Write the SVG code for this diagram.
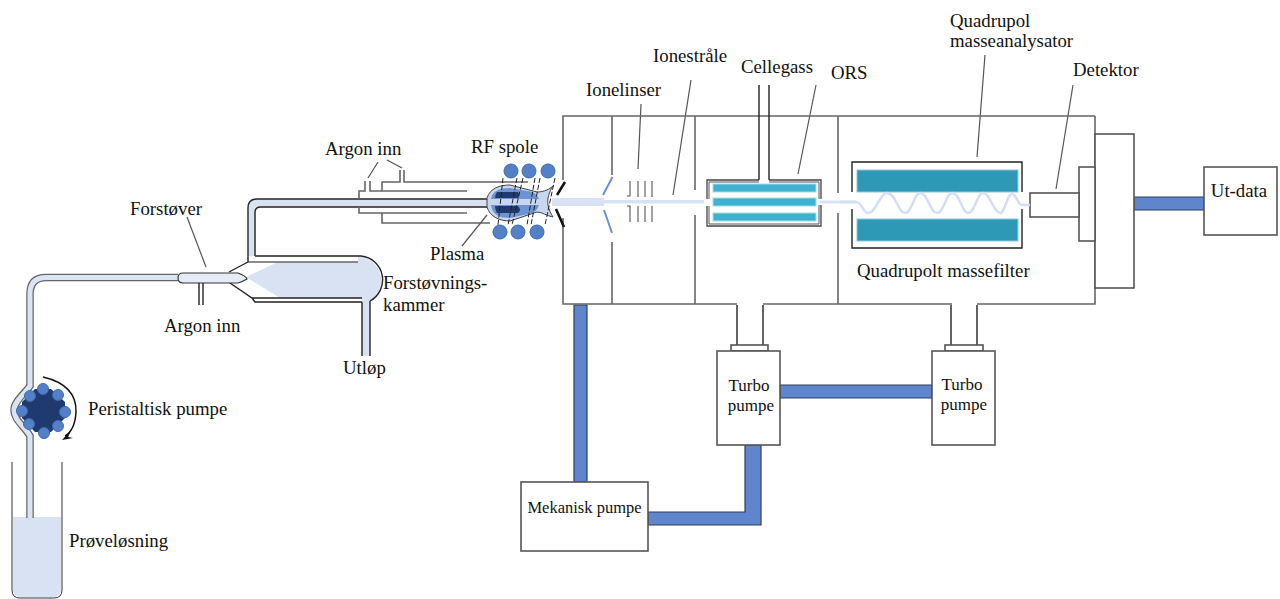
<svg xmlns="http://www.w3.org/2000/svg" width="1280" height="599" viewBox="0 0 1280 599">
<style>
text{font-family:"Liberation Serif","Times New Roman",serif;font-size:18.800px;fill:#111}
.s{font-size:17px}
.m{font-size:16.500px}
.l{fill:none;stroke:#555;stroke-width:1.200}
.g{fill:none;stroke:#666;stroke-width:1.600}
.k{fill:none;stroke:#222;stroke-width:1.400}
.k1{fill:none;stroke:#333;stroke-width:1}
.b{fill:#fff;stroke:#555;stroke-width:1.600}
.p{fill:#5f86cc;stroke:#2f3f5f;stroke-width:1.200}
.c{fill:#5480c8;stroke:#3b6ab0;stroke-width:1}
.q{fill:#2e99b6;stroke:#8fc8d8;stroke-width:1}
.o{fill:#3fb2cf;stroke:#a8dbe8;stroke-width:1}
</style>
<rect width="1280" height="599" fill="#fff"/>
<g id="connectors">
<path class="p" d="M574 305V482H587V305Z"/>
<path class="p" d="M648 512H745V445H761V525H648Z"/>
<path class="p" d="M780 385H932V398H780Z"/>
<path class="p" d="M1134 197H1204V210H1134Z"/>
<g class="l">
<path d="M187 217L206 267"/><path d="M378 162L368 178"/><path d="M387 160L402 168"/>
<path d="M462 246L487 215"/><path d="M641 104L638 169"/><path d="M691 80L673 195"/><path d="M816 85L798 174"/>
<path d="M985 55L977 157"/><path d="M1073 85L1056 189"/>
</g>
</g>
<g id="sample-vial">
<path d="M13 517H61V590Q61 597 53 597H21Q13 597 13 590Z" fill="#d9e2f3"/>
<path class="k1" d="M12 462V590Q12 598 20 598H54Q62 598 62 590V462"/>
</g>
<g id="sample-line">
<path d="M178 277.500H46Q30 277.500 30 294V386C24 394 14 402 14 410C14 420 24 426 30 436V518" fill="none" stroke="#666" stroke-width="7.500"/>
<path d="M178 277.500H46Q30 277.500 30 294V386C24 394 14 402 14 410C14 420 24 426 30 436V518" fill="none" stroke="#dbe4f4" stroke-width="5"/>
</g>
<g id="pump">
<polygon points="35,389 51,389 65,402 65,418 51,432 35,432 22,418 22,402" fill="#1f3a6e"/>
<g class="c"><circle cx="30" cy="396" r="5.500"/><circle cx="43" cy="389" r="5.500"/><circle cx="58" cy="395" r="5.500"/><circle cx="65" cy="412" r="5.500"/><circle cx="58" cy="426" r="5.500"/><circle cx="44" cy="433" r="5.500"/><circle cx="29" cy="424" r="5.500"/><circle cx="22" cy="411" r="5.500"/></g>
<path d="M43 377Q77 385 76 412Q75 430 65 436" fill="none" stroke="#111" stroke-width="1.500"/>
<path d="M62 440L72 429L68 437L73 438Z" fill="#111"/>
</g>
<g id="nebulizer">
<path d="M246 277L278 262H358V257H361A24 24 0 0 1 370 301V356H362V298H280Z" fill="#d9e2f3"/>
<path class="k" d="M255 256H361A24 24 0 0 1 370 301M229 272L248 262M230 283L252 298H362M252 298L255 302H362M362 302V356M370 301V356"/>
<path d="M248 262H358" fill="none" stroke="#666" stroke-width="1.600"/>
<path d="M183 273H238Q246 276 247 279Q242 282 238 283H183Q178 283 178 278Q178 273 183 273Z" fill="#e6ecf7" stroke="#333" stroke-width="1.200"/>
<path class="k" d="M199 283V305M203 283V305"/>
</g>
<g id="torch-line">
<path d="M252 256V207Q252 203 258 203H490" fill="none" stroke="#d9e2f3" stroke-width="7"/>
<path class="k" d="M248 262V208Q248 199 257 199H488M255 256V212Q255 207 261 207H488"/>
</g>
<g id="torch">
<path class="g" d="M359 199V191H365V181M370 181V191H467M382 191V182H400V170M404 170V182H528M359 207V213H467M382 213V223H490"/>
<path d="M487 198C490 188 500 185 510 185L537 192C544 192 550 189 553 186C549 192 547 199 548 205C549 210 551 214 553 217C547 216 542 212 537 212L510 221C500 221 490 217 487 207Z" fill="#c8d6ee" stroke="#444" stroke-width="1"/>
<path d="M491 199C492 191 500 188 510 188L533 192C536 194 538 197 539 199ZM491 205C492 215 500 218 510 218L533 213C536 211 538 208 539 205Z" fill="#6d93d3"/>
<path d="M495 198H518Q520 195 518 192H497Q495 195 495 198ZM495 206H518Q522 210 518 213H497Q495 210 495 206Z" fill="#1f3a6e"/>
<g class="c"><circle cx="511" cy="171" r="7"/><circle cx="529" cy="171" r="7"/><circle cx="548" cy="171" r="7"/><circle cx="500" cy="232" r="7"/><circle cx="518" cy="232" r="7"/><circle cx="537" cy="232" r="7"/></g>
<path d="M503 178L498 225M517 178L508 225M523 178L512 225M535 178L527 225M540 178L531 225M555 178L545 225" fill="none" stroke="#222" stroke-width="1" stroke-dasharray="5 2"/>
</g>
<g id="mass-spec-body">
<path class="g" d="M563 180V116H1095M563 218V304H737M763 304H952M977 304H1095V116"/>
<path class="g" d="M612 116V175M612 242V304M695 116V190M695 215V304M838 116V193M838 213V304"/>
<path class="k" d="M737 305V345M763 305V345M951 305V345M977 305V345"/>
<rect class="b" x="1095" y="134" width="39" height="154"/>
<rect class="b" x="1079" y="167" width="16" height="74"/>
<rect class="b" x="1030" y="193" width="49" height="24"/>
</g>
<g id="ion-optics">
<path d="M565 182L557 195M556 209L564 227" stroke="#111" stroke-width="2.500" fill="none"/>
<path d="M552 198H604V206H552Z" fill="#d9e2f3"/>
<path d="M604 200H710V203.500H604Z" fill="#d9e2f3"/>
<path d="M612.500 177L603 195M604 210L612 233" stroke="#6b8fd6" stroke-width="2" fill="none"/>
<path d="M630 181V196H627M638 181V197M645 181V197M652 181V197M627 206H630V222M638 206V222M645 206V222M652 206V222" fill="none" stroke="#555" stroke-width="1.100"/>
</g>
<g id="collision-cell">
<path class="k" d="M759 85V180M769 85V180"/>
<path d="M759 180H707V226H821V180H769" fill="none" stroke="#444" stroke-width="1.300"/>
<path d="M759 182H709V224H819V182H769" fill="none" stroke="#555" stroke-width="1"/>
<path d="M704 199H712V206H704ZM816 199H824V205H816Z" fill="#fff"/>
<rect class="o" x="713" y="184" width="103" height="8"/>
<rect class="o" x="713" y="198" width="103" height="8"/>
<rect class="o" x="713" y="213" width="103" height="8"/>
<path d="M820 202H856" stroke="#d9e2f3" stroke-width="3" fill="none"/>
</g>
<g id="quadrupole">
<path class="k" d="M852 192V162H1022V192M852 209V248H1022V209"/>
<rect class="q" x="857" y="170" width="161" height="22"/>
<rect class="q" x="857" y="219" width="161" height="22"/>
<path d="M840 202H856C862 202 863 213 868 213C876 213 880 193 887 193C896 193 898 213 905 213C912 213 914 193 920 193C928 193 930 213 937 213C944 213 946 193 952 193C960 193 962 213 968 213C975 213 977 193 983 193C990 193 994 213 1000 213C1005 213 1007 194 1012 194C1016 194 1018 205 1022 205H1030" fill="none" stroke="#d3dff2" stroke-width="2.500"/>
</g>
<g id="turbo1">
<rect class="b" x="731" y="345" width="37" height="6"/>
<rect class="b" x="717" y="351" width="63" height="94"/>
<text class="s" x="749" y="391" text-anchor="middle">Turbo</text>
<text class="s" x="751" y="411" text-anchor="middle">pumpe</text>
</g>
<g id="turbo2">
<rect class="b" x="945" y="345" width="38" height="6"/>
<rect class="b" x="932" y="351" width="63" height="94"/>
<text class="s" x="962" y="390" text-anchor="middle">Turbo</text>
<text class="s" x="964" y="410" text-anchor="middle">pumpe</text>
</g>
<g id="mech-pump"><rect class="b" x="521" y="482" width="127" height="69"/><text class="m" x="584.500" y="513" text-anchor="middle">Mekanisk pumpe</text></g>
<g id="ut-data"><rect class="b" x="1204" y="167" width="73" height="68"/><text x="1239" y="197" text-anchor="middle">Ut-data</text></g>
<g id="labels">
<text x="130" y="215">Forstøver</text>
<text x="164" y="332">Argon inn</text>
<text x="383" y="289">Forstøvnings-</text>
<text x="383" y="311">kammer</text>
<text x="343" y="374">Utløp</text>
<text x="88" y="415">Peristaltisk pumpe</text>
<text x="69" y="547">Prøveløsning</text>
<text x="325" y="155">Argon inn</text>
<text x="471" y="153">RF spole</text>
<text x="430" y="260">Plasma</text>
<text x="586" y="96">Ionelinser</text>
<text x="653" y="62">Ionestråle</text>
<text x="741" y="73">Cellegass</text>
<text x="831" y="79">ORS</text>
<text x="950" y="27">Quadrupol</text>
<text x="950" y="47">masseanalysator</text>
<text x="1073" y="76">Detektor</text>
<text x="857" y="277">Quadrupolt massefilter</text>
</g>
</svg>
